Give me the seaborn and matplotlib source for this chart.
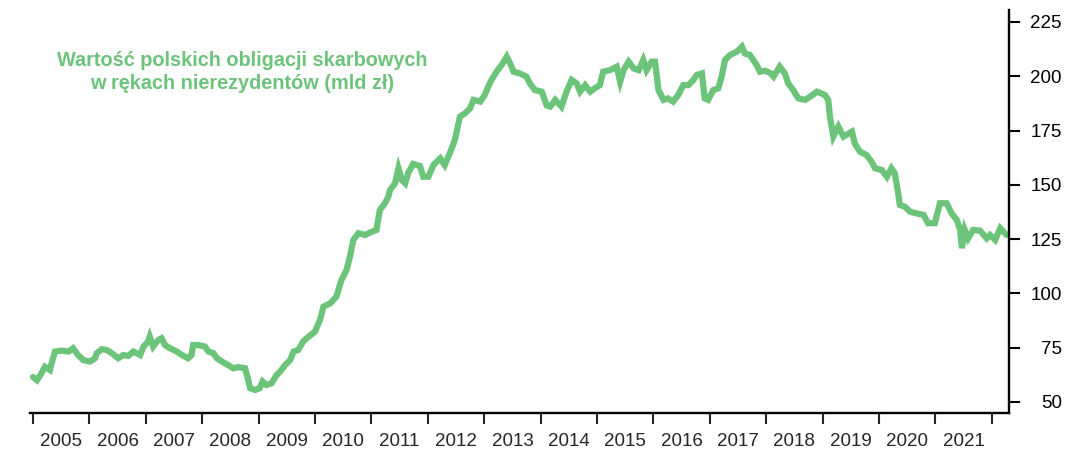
import matplotlib
matplotlib.use("Agg")
import matplotlib.pyplot as plt
import seaborn as sns
import pandas as pd
import numpy as np
from matplotlib.ticker import FixedLocator, NullFormatter, FixedFormatter

# --- data (decimal year, value in bn PLN) ---
dates = [
    2005.00, 2005.07, 2005.15, 2005.21, 2005.30, 2005.33, 2005.39, 2005.51, 2005.63, 2005.71,
    2005.80, 2005.89, 2006.01, 2006.10, 2006.13, 2006.22, 2006.31, 2006.40, 2006.51, 2006.60,
    2006.69, 2006.78, 2006.90, 2006.96, 2007.04, 2007.07, 2007.13, 2007.22, 2007.28, 2007.34,
    2007.43, 2007.55, 2007.64, 2007.75, 2007.81, 2007.84, 2007.93, 2008.05, 2008.11, 2008.20,
    2008.26, 2008.35, 2008.46, 2008.55, 2008.64, 2008.76, 2008.81, 2008.85, 2008.94, 2009.02,
    2009.07, 2009.14, 2009.23, 2009.32, 2009.38, 2009.47, 2009.56, 2009.62, 2009.70, 2009.79,
    2009.85, 2010.00, 2010.09, 2010.15, 2010.27, 2010.38, 2010.47, 2010.56, 2010.62, 2010.68,
    2010.77, 2010.89, 2011.01, 2011.09, 2011.15, 2011.24, 2011.30, 2011.33, 2011.42, 2011.48,
    2011.54, 2011.60, 2011.65, 2011.74, 2011.86, 2011.92, 2012.01, 2012.10, 2012.22, 2012.30,
    2012.39, 2012.48, 2012.57, 2012.66, 2012.75, 2012.81, 2012.93, 2013.01, 2013.07, 2013.13,
    2013.22, 2013.31, 2013.40, 2013.46, 2013.52, 2013.63, 2013.75, 2013.81, 2013.90, 2014.02,
    2014.11, 2014.17, 2014.26, 2014.37, 2014.46, 2014.55, 2014.64, 2014.70, 2014.79, 2014.88,
    2014.96, 2015.05, 2015.11, 2015.23, 2015.35, 2015.41, 2015.47, 2015.56, 2015.65, 2015.74,
    2015.82, 2015.88, 2015.97, 2016.03, 2016.09, 2016.18, 2016.26, 2016.35, 2016.44, 2016.53,
    2016.62, 2016.71, 2016.77, 2016.86, 2016.91, 2016.97, 2017.06, 2017.15, 2017.21, 2017.27,
    2017.36, 2017.48, 2017.57, 2017.62, 2017.71, 2017.77, 2017.83, 2017.89, 2017.98, 2018.07,
    2018.13, 2018.24, 2018.33, 2018.39, 2018.48, 2018.57, 2018.69, 2018.78, 2018.90, 2019.04,
    2019.10, 2019.13, 2019.19, 2019.28, 2019.37, 2019.52, 2019.57, 2019.66, 2019.78, 2019.87,
    2019.93, 2020.05, 2020.14, 2020.22, 2020.28, 2020.34, 2020.37, 2020.46, 2020.55, 2020.67,
    2020.79, 2020.87, 2020.99, 2021.08, 2021.20, 2021.29, 2021.38, 2021.44, 2021.47, 2021.52,
    2021.58, 2021.67, 2021.79, 2021.91, 2021.97, 2022.06, 2022.15, 2022.26,
]
values = [
    61.5, 60.0, 63.2, 66.2, 64.7, 67.8, 73.2, 73.6, 73.2, 74.7,
    71.6, 69.3, 68.6, 70.1, 72.4, 74.3, 73.9, 72.4, 70.1, 71.6,
    71.2, 73.2, 71.6, 75.5, 77.8, 80.1, 75.5, 78.5, 79.3, 76.2,
    74.7, 73.2, 71.6, 70.1, 71.6, 76.2, 76.2, 75.5, 73.2, 72.4,
    70.1, 68.6, 67.0, 65.5, 66.0, 65.5, 60.9, 56.3, 55.5, 56.3,
    59.4, 57.8, 58.6, 62.4, 63.9, 67.0, 69.3, 73.2, 73.9, 77.8,
    79.3, 82.4, 87.8, 93.9, 95.4, 98.5, 106.2, 110.8, 116.9, 124.6,
    127.7, 126.9, 128.4, 129.2, 138.4, 141.5, 144.5, 147.6, 150.7, 157.6,
    152.2, 150.7, 155.3, 159.6, 158.7, 153.7, 153.7, 159.1, 162.2, 159.1,
    164.5, 170.6, 181.4, 182.9, 185.2, 189.1, 188.3, 191.4, 195.2, 198.3,
    202.1, 205.2, 209.0, 205.9, 202.1, 201.3, 199.8, 196.7, 193.6, 192.9,
    186.5, 186.0, 189.1, 186.0, 192.9, 198.3, 196.7, 192.9, 195.9, 192.9,
    194.4, 195.9, 202.1, 202.8, 204.4, 197.5, 202.8, 206.7, 203.6, 202.8,
    207.5, 202.8, 206.7, 206.7, 193.6, 189.1, 189.8, 188.3, 191.4, 195.9,
    195.9, 198.3, 200.6, 201.3, 189.8, 189.1, 193.6, 194.4, 199.8, 207.5,
    209.8, 211.3, 213.6, 210.5, 209.8, 207.5, 205.2, 202.1, 202.5, 201.5,
    199.8, 204.4, 201.3, 196.7, 193.6, 189.8, 189.1, 190.6, 192.9, 191.4,
    189.1, 181.4, 172.2, 176.8, 172.2, 174.5, 169.1, 165.3, 163.7, 160.6,
    157.6, 156.8, 153.7, 157.6, 155.3, 146.1, 140.7, 139.9, 137.6, 136.8,
    136.1, 132.3, 132.3, 141.5, 141.5, 136.8, 133.8, 129.2, 120.8, 129.2,
    125.3, 129.2, 128.9, 125.3, 126.9, 124.6, 130.0, 126.9,
]
year_labels = [str(y) for y in range(2005, 2022)]
y_ticks = [50, 75, 100, 125, 150, 175, 200, 225]
title_text = "Wartość polskich obligacji skarbowych\nw rękach nierezydentów (mld zł)"

GREEN = "#6CC47A"

sns.set_style("white")
plt.rcParams["font.family"] = ["Liberation Sans", "DejaVu Sans"]

df = pd.DataFrame({"date": dates, "value": values})

fig = plt.figure(figsize=(10.86, 4.51), dpi=100)
ax = fig.add_axes([30 / 1086, 38 / 451, 979 / 1086, 403 / 451])

sns.lineplot(data=df, x="date", y="value", ax=ax, color=GREEN, linewidth=4.5,
             solid_joinstyle="miter", estimator=None)

ax.set_xlim(2004.947, 2022.305)
ax.set_ylim(44.9, 230.5)

# spines
for s in ["left", "top"]:
    ax.spines[s].set_visible(False)
for s in ["right", "bottom"]:
    ax.spines[s].set_visible(True)
    ax.spines[s].set_color("black")
    ax.spines[s].set_linewidth(1.7)

# y axis on right, labels right-aligned
ax.yaxis.tick_right()
ax.yaxis.set_label_position("right")
ax.set_yticks(y_ticks)
ax.set_yticklabels([str(v) for v in y_ticks])
ax.tick_params(axis="y", which="major", direction="out", length=8, width=1.5,
               labelsize=13.5, pad=30, colors="black")
for lab in ax.get_yticklabels():
    lab.set_horizontalalignment("right")

# x axis: ticks at year boundaries, labels centered in each year
ax.xaxis.set_major_locator(FixedLocator(list(range(2005, 2023))))
ax.xaxis.set_major_formatter(NullFormatter())
ax.xaxis.set_minor_locator(FixedLocator([y + 0.5 for y in range(2005, 2022)]))
ax.xaxis.set_minor_formatter(FixedFormatter(year_labels))
ax.tick_params(axis="x", which="major", direction="out", length=8, width=1.5, bottom=True)
ax.tick_params(axis="x", which="minor", length=0, labelsize=13.5, pad=14.5, bottom=True)

ax.set_xlabel("")
ax.set_ylabel("")
ax.grid(False)

ax.text(0.2166, 0.846, title_text, transform=ax.transAxes, ha="center", va="center",
        color=GREEN, fontsize=14.3, fontweight="bold", linespacing=1.25)

fig.savefig("out.png", dpi=100)
